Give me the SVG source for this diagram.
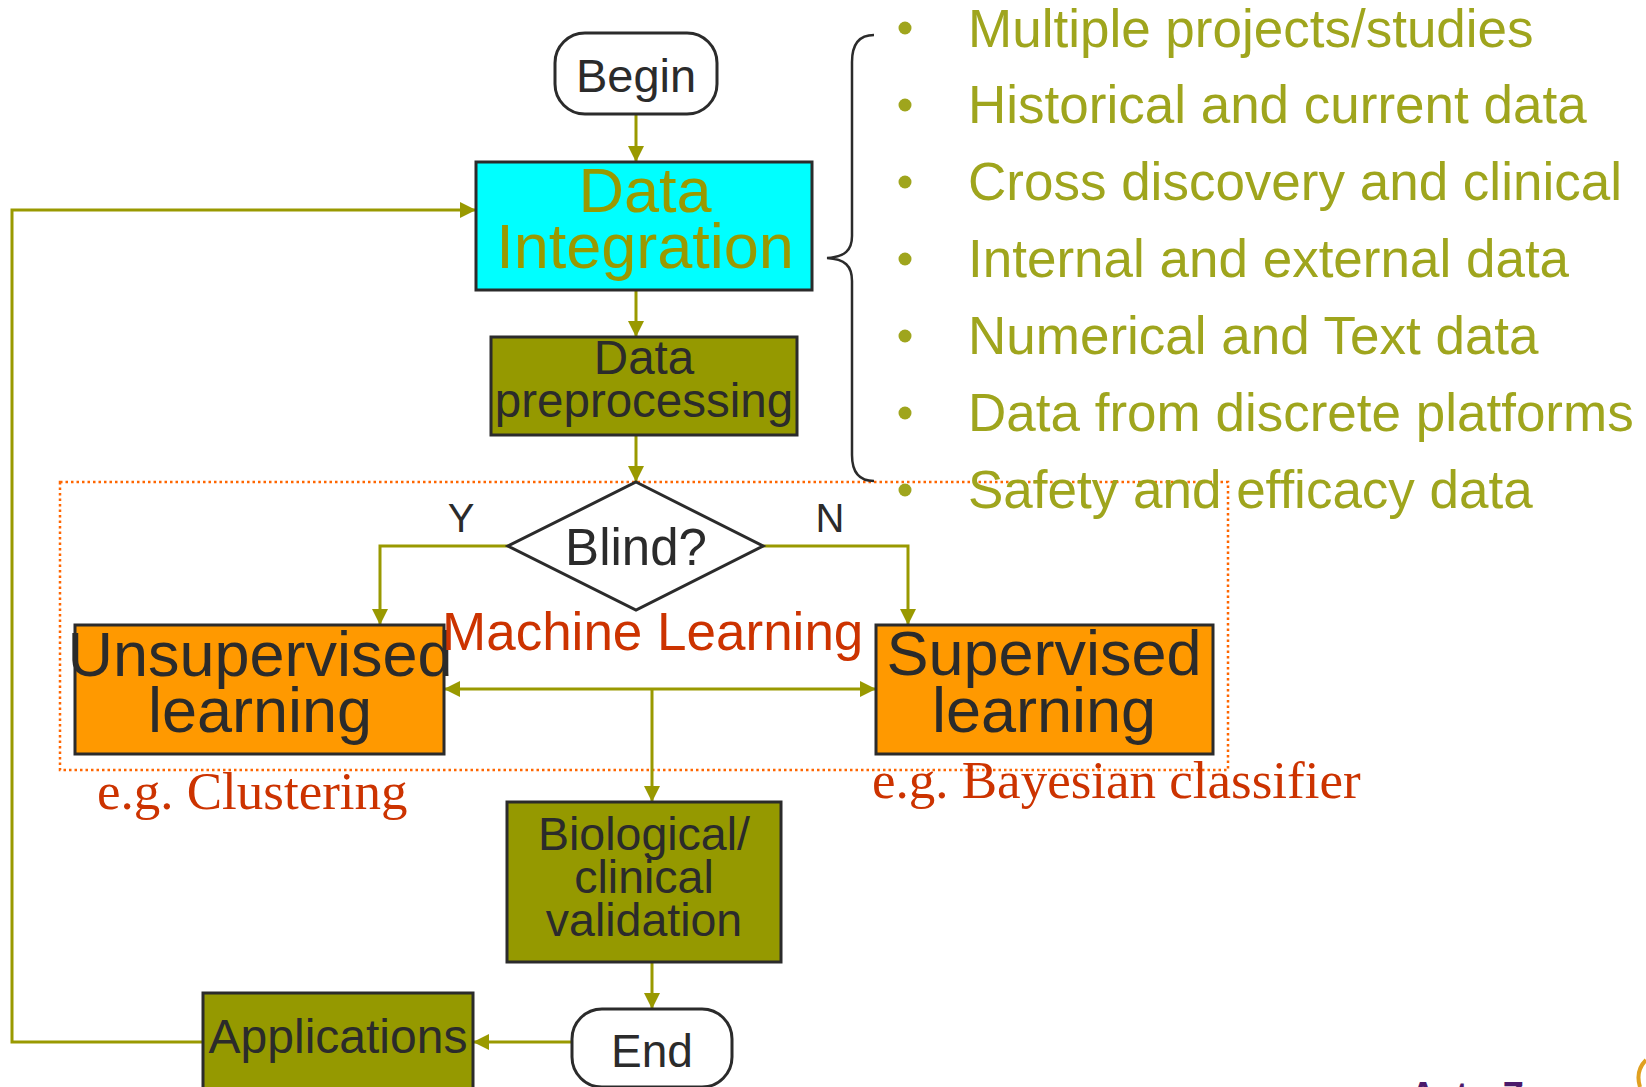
<svg xmlns="http://www.w3.org/2000/svg" width="1646" height="1087" viewBox="0 0 1646 1087">
  <style>
    .box { stroke: #2b2b2b; stroke-width: 3; }
    .term { fill: #ffffff; stroke: #2b2b2b; stroke-width: 3; }
    .cyan { fill: #00ffff; }
    .olive { fill: #959900; }
    .orange { fill: #ff9900; }
    .lbl { font-family: "Liberation Sans", Arial, sans-serif; fill: #2b2b2b; text-anchor: middle; }
    .conn { fill: none; stroke: #999900; stroke-width: 3; }
    .red { font-family: "Liberation Serif", "Times New Roman", serif; fill: #cc3300; font-size: 53px; }
    .bullet-text { font-family: "Liberation Sans", Arial, sans-serif; fill: #9fa51d; font-size: 53px; }
    .dot { fill: #9fa51d; }
  </style>
  <defs>
    <marker id="arrow" viewBox="0 0 16 16" refX="16" refY="8" markerWidth="16" markerHeight="16" markerUnits="userSpaceOnUse" orient="auto">
      <path d="M0,0 L16,8 L0,16 z" fill="#999900"/>
    </marker>
  </defs>

  <rect width="1646" height="1087" fill="#ffffff"/>

  <!-- machine learning region -->
  <rect id="ml-region" x="60" y="482" width="1168" height="288" fill="none" stroke="#ff6600" stroke-width="2.5" stroke-dasharray="2.5,3"/>

  <!-- connectors -->
  <g id="connectors">
    <path class="conn" d="M636,114 L636,162" marker-end="url(#arrow)"/>
    <path class="conn" d="M636,290 L636,337" marker-end="url(#arrow)"/>
    <path class="conn" d="M636,435 L636,482" marker-end="url(#arrow)"/>
    <path class="conn" d="M508,546 L380,546 L380,625" marker-end="url(#arrow)"/>
    <path class="conn" d="M763,546 L908,546 L908,625" marker-end="url(#arrow)"/>
    <path class="conn" d="M652,689 L444,689" marker-end="url(#arrow)"/>
    <path class="conn" d="M652,689 L876,689" marker-end="url(#arrow)"/>
    <path class="conn" d="M652,689 L652,802" marker-end="url(#arrow)"/>
    <path class="conn" d="M652,962 L652,1009" marker-end="url(#arrow)"/>
    <path class="conn" d="M572,1042 L473,1042" marker-end="url(#arrow)"/>
    <path class="conn" d="M203,1042 L12,1042 L12,210 L476,210" marker-end="url(#arrow)"/>
  </g>

  <!-- nodes -->
  <g id="begin">
    <rect class="term" x="555" y="33" width="162" height="81" rx="30"/>
    <text class="lbl" x="636" y="92" font-size="47">Begin</text>
  </g>

  <g id="data-integration">
    <rect class="box cyan" x="476" y="162" width="336" height="128"/>
    <text x="645" y="212" font-size="63" font-family="Liberation Sans, Arial, sans-serif" fill="#999900" text-anchor="middle">Data</text>
    <text x="645" y="268" font-size="63" font-family="Liberation Sans, Arial, sans-serif" fill="#999900" text-anchor="middle">Integration</text>
  </g>

  <g id="data-preprocessing">
    <rect class="box olive" x="491" y="337" width="306" height="98"/>
    <text class="lbl" x="644" y="374" font-size="47.5">Data</text>
    <text class="lbl" x="644" y="417" font-size="47.5">preprocessing</text>
  </g>

  <g id="blind">
    <polygon points="636,482 763,546 636,610 508,546" fill="#ffffff" stroke="#2b2b2b" stroke-width="3"/>
    <text class="lbl" x="636" y="565" font-size="51">Blind?</text>
    <text class="lbl" x="461" y="532" font-size="40">Y</text>
    <text class="lbl" x="830" y="532" font-size="40">N</text>
  </g>

  <g id="unsupervised">
    <rect class="box orange" x="75" y="625" width="369" height="129"/>
    <text class="lbl" x="260" y="676" font-size="63">Unsupervised</text>
    <text class="lbl" x="260" y="732" font-size="63">learning</text>
  </g>

  <g id="supervised">
    <rect class="box orange" x="876" y="625" width="337" height="129"/>
    <text class="lbl" x="1044" y="675" font-size="63">Supervised</text>
    <text class="lbl" x="1044" y="732" font-size="63">learning</text>
  </g>

  <text id="ml-title" x="442" y="650" font-size="53" font-family="Liberation Sans, Arial, sans-serif" fill="#cc3300">Machine Learning</text>
  <text id="clustering-note" class="red" x="97" y="809">e.g. Clustering</text>
  <text id="bayes-note" class="red" x="872" y="798">e.g. Bayesian classifier</text>

  <g id="validation">
    <rect class="box olive" x="507" y="802" width="274" height="160"/>
    <text class="lbl" x="644" y="850" font-size="46.5">Biological/</text>
    <text class="lbl" x="644" y="893" font-size="46.5">clinical</text>
    <text class="lbl" x="644" y="936" font-size="46.5">validation</text>
  </g>

  <g id="end">
    <rect class="term" x="572" y="1009" width="160" height="78" rx="30"/>
    <text class="lbl" x="652" y="1067" font-size="46">End</text>
  </g>

  <g id="applications">
    <rect class="box olive" x="203" y="993" width="270" height="110"/>
    <text class="lbl" x="338" y="1053" font-size="48">Applications</text>
  </g>

  <!-- brace grouping the data sources -->
  <path id="brace" d="M874,35 C858,35 852,45 852,62 L852,236 C852,250 845,257 827,258 C845,259 852,266 852,281 L852,455 C852,471 858,481 874,481" fill="none" stroke="#2b2b2b" stroke-width="2.5"/>

  <g id="data-sources">
    <circle class="dot" cx="905" cy="28" r="6.5"/>
    <text class="bullet-text" x="968" y="47">Multiple projects/studies</text>
    <circle class="dot" cx="905" cy="105" r="6.5"/>
    <text class="bullet-text" x="968" y="123">Historical and current data</text>
    <circle class="dot" cx="905" cy="182" r="6.5"/>
    <text class="bullet-text" x="968" y="200">Cross discovery and clinical</text>
    <circle class="dot" cx="905" cy="259" r="6.5"/>
    <text class="bullet-text" x="968" y="277">Internal and external data</text>
    <circle class="dot" cx="905" cy="336" r="6.5"/>
    <text class="bullet-text" x="968" y="354">Numerical and Text data</text>
    <circle class="dot" cx="905" cy="413" r="6.5"/>
    <text class="bullet-text" x="968" y="431">Data from discrete platforms</text>
    <circle class="dot" cx="905" cy="490" r="6.5"/>
    <text class="bullet-text" x="968" y="508">Safety and efficacy data</text>
  </g>

  <!-- corner logo, cut by the lower edge -->
  <g id="logo">
    <text x="1410" y="1108" font-size="36" font-weight="bold" font-family="Liberation Sans, Arial, sans-serif" fill="#4b1a6b">AstraZeneca</text>
    <path d="M1646,1060 C1640,1066 1636,1074 1640,1087" fill="none" stroke="#e0a020" stroke-width="4"/>
  </g>
</svg>
